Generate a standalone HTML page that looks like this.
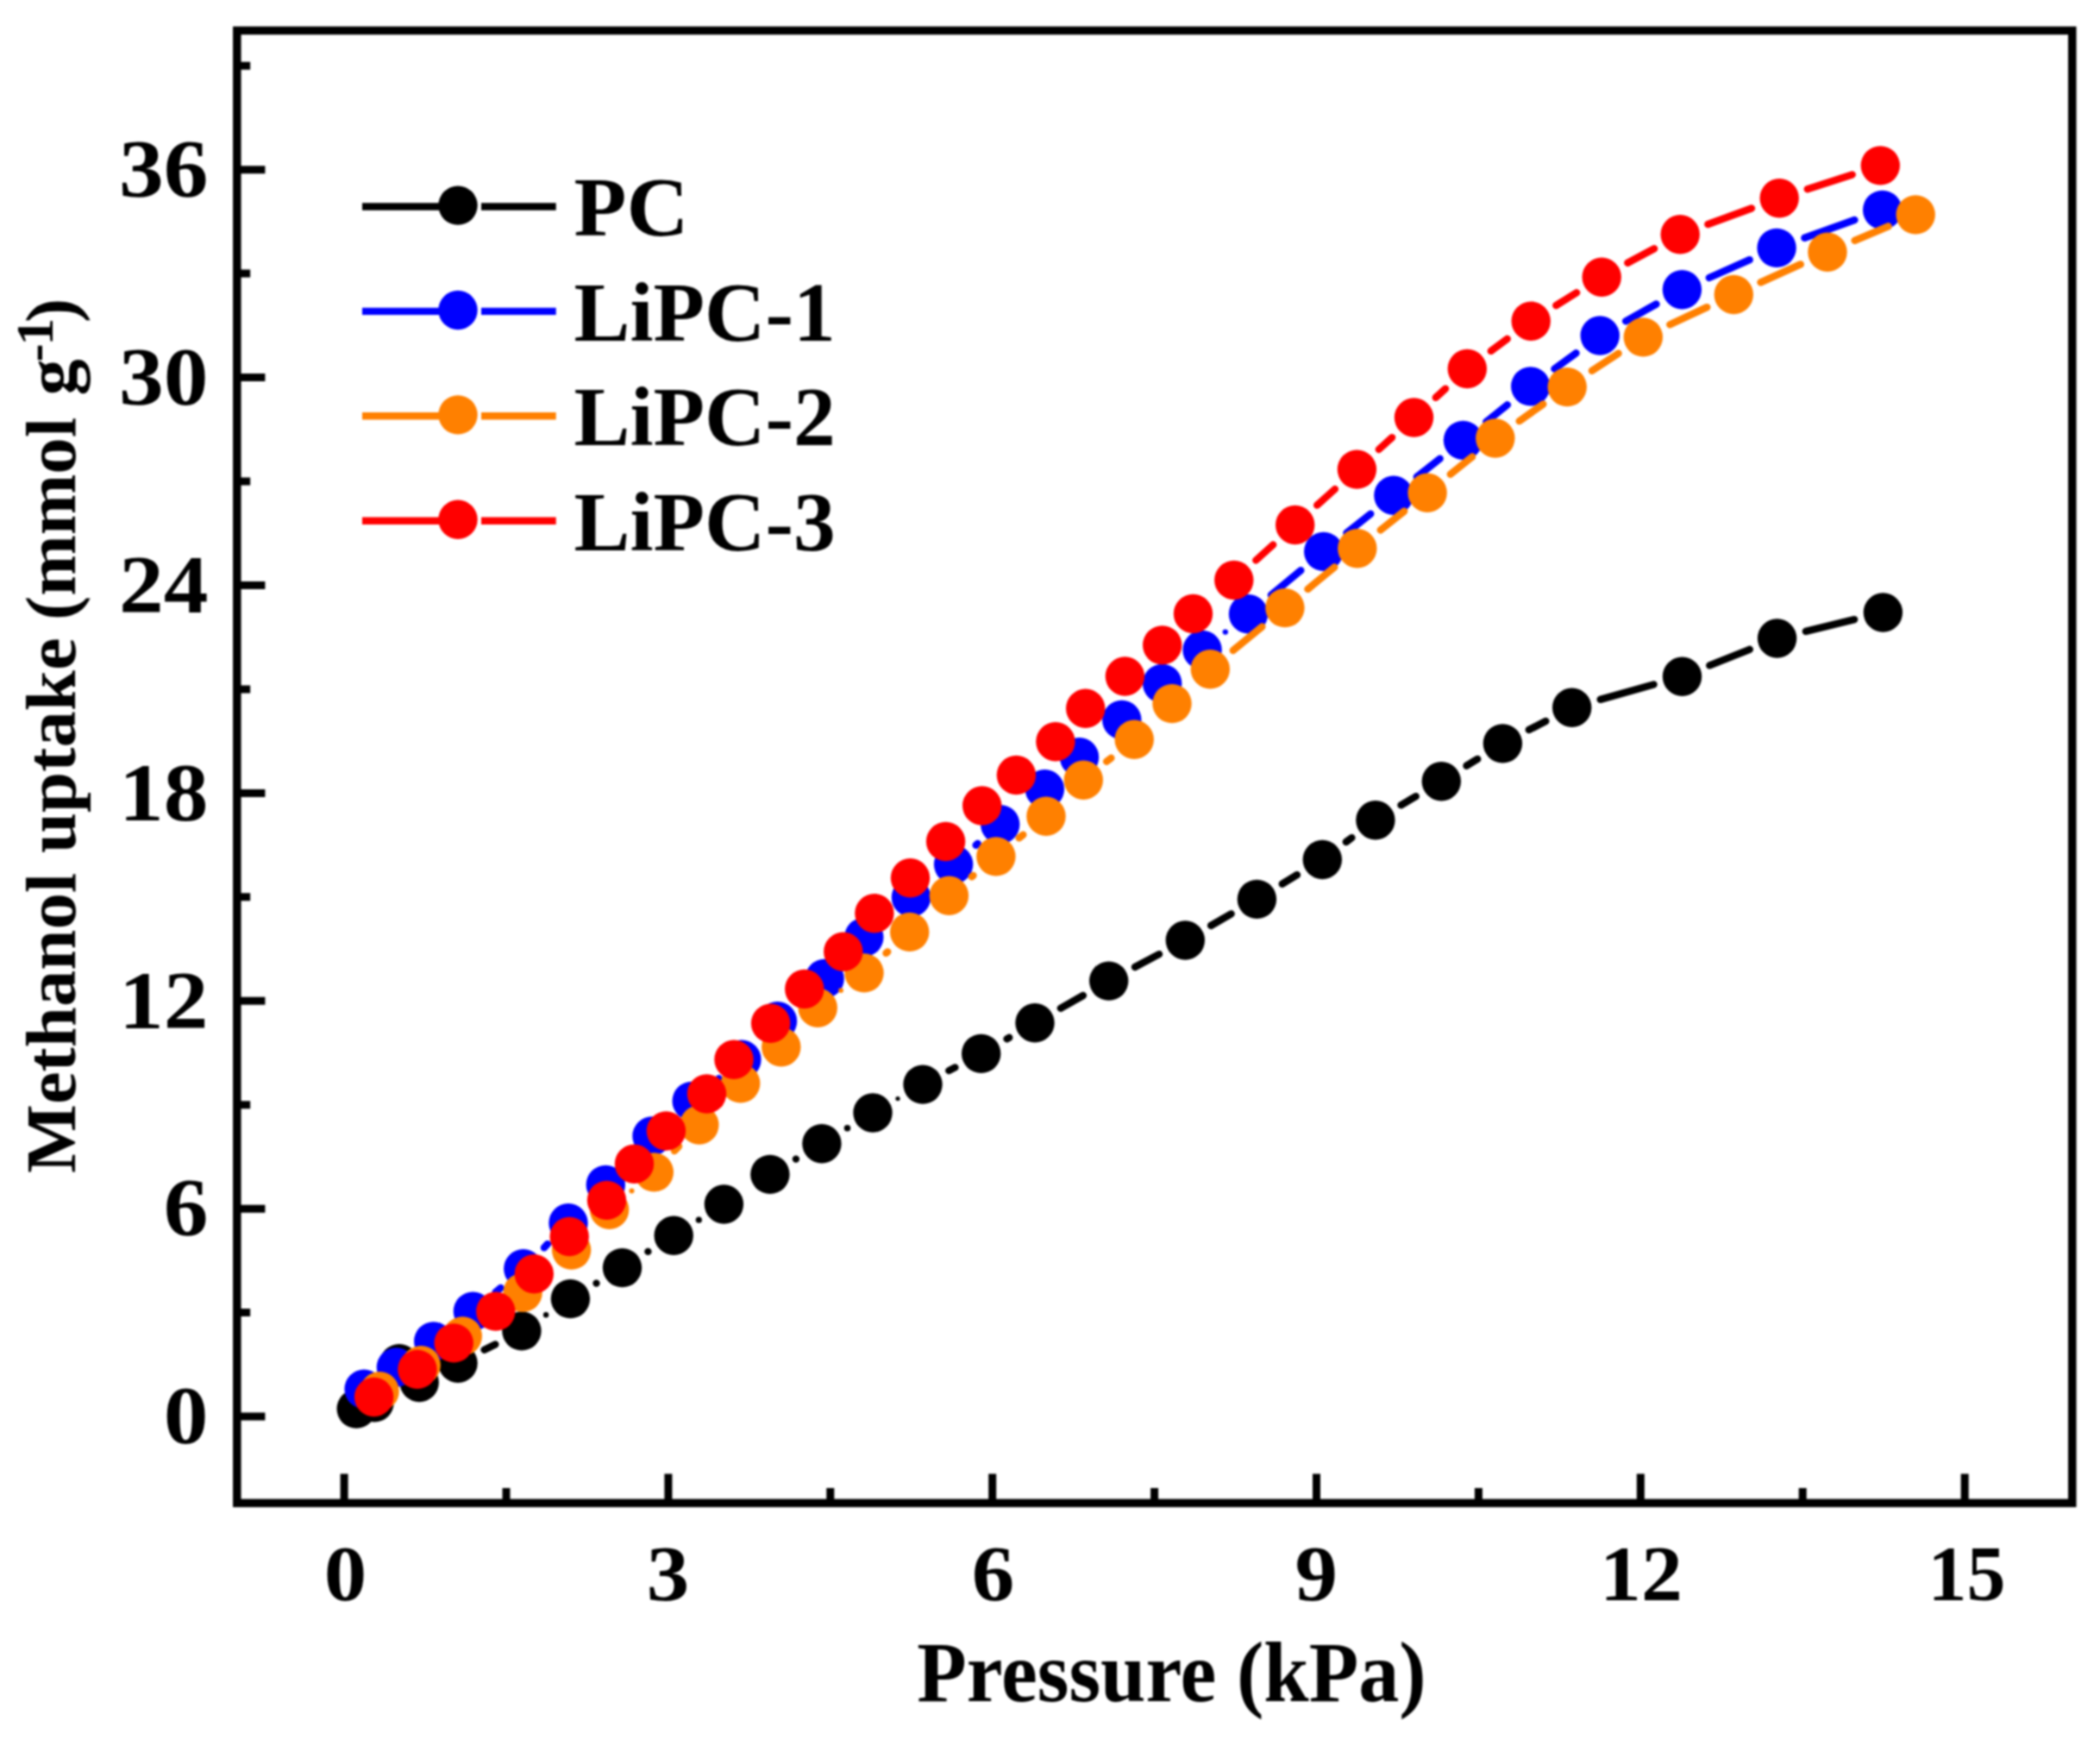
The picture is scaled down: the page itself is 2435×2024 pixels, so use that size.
<!DOCTYPE html>
<html><head><meta charset="utf-8"><title>Methanol uptake</title>
<style>
html,body{margin:0;padding:0;background:#fff;}
body{width:2435px;height:2024px;overflow:hidden;}
svg{display:block;filter:blur(1px);}
text{font-family:"Liberation Serif",serif;font-weight:bold;fill:#000;}
</style></head><body>
<svg width="2435" height="2024" viewBox="0 0 2435 2024">
<rect width="2435" height="2024" fill="#fff"/>
<path d="M399.1 1742.4V1708.6M774.9 1742.4V1708.6M1150.7 1742.4V1708.6M1526.5 1742.4V1708.6M1902.3 1742.4V1708.6M2278.2 1742.4V1708.6M587.0 1742.4V1725.1M962.8 1742.4V1725.1M1338.6 1742.4V1725.1M1714.4 1742.4V1725.1M2090.2 1742.4V1725.1M274.8 1642.1H307.4M274.8 1521.6H290.2M274.8 1401.2H307.4M274.8 1280.8H290.2M274.8 1160.3H307.4M274.8 1039.8H290.2M274.8 919.4H307.4M274.8 798.9H290.2M274.8 678.5H307.4M274.8 558.0H290.2M274.8 437.6H307.4M274.8 317.1H290.2M274.8 196.7H307.4M274.8 76.2H290.2" stroke="#000" stroke-width="9.0" fill="none"/>
<rect x="274.8" y="35.4" width="2128.0" height="1707.0" fill="none" stroke="#000" stroke-width="9.5"/>
<g fill="#000000" stroke="#000000">
<path d="M561.6 1564.7L574.3 1558.4M1100.3 1241.1L1107.4 1237.4M1167.5 1204.3L1170.2 1202.8M1229.8 1168.8L1255.9 1154.0M1316.0 1121.0L1344.0 1106.1M1404.1 1073.0L1427.6 1059.4M1486.8 1024.7L1503.9 1014.2M1560.8 976.0L1567.4 971.2M1624.5 933.3L1641.7 923.1M1700.5 887.7L1713.2 879.9M1772.8 846.1L1792.3 836.0M1855.7 810.9L1917.5 793.5M1982.3 771.4L2028.8 752.8M2093.9 731.9L2150.1 718.1" fill="none" stroke-width="8.4" stroke-linecap="round"/>
<circle cx="633.1" cy="1524.2" r="3.2" stroke="none"/>
<circle cx="691.5" cy="1487.6" r="4.2" stroke="none"/>
<circle cx="751.4" cy="1450.9" r="4.2" stroke="none"/>
<circle cx="810.3" cy="1414.2" r="3.6" stroke="none"/>
<circle cx="922.9" cy="1343.6" r="4.2" stroke="none"/>
<circle cx="982.5" cy="1307.8" r="3.8" stroke="none"/>
<circle cx="1041.0" cy="1273.5" r="2.6" stroke="none"/>
<circle cx="413.2" cy="1633.1" r="22.7" stroke="none"/>
<circle cx="434.1" cy="1625.9" r="22.7" stroke="none"/>
<circle cx="486.2" cy="1602.5" r="22.7" stroke="none"/>
<circle cx="531.0" cy="1580.2" r="22.7" stroke="none"/>
<circle cx="604.9" cy="1542.9" r="22.7" stroke="none"/>
<circle cx="661.4" cy="1505.6" r="22.7" stroke="none"/>
<circle cx="721.5" cy="1469.6" r="22.7" stroke="none"/>
<circle cx="781.2" cy="1432.3" r="22.7" stroke="none"/>
<circle cx="839.4" cy="1396.0" r="22.7" stroke="none"/>
<circle cx="892.9" cy="1361.4" r="22.7" stroke="none"/>
<circle cx="952.9" cy="1325.7" r="22.7" stroke="none"/>
<circle cx="1012.0" cy="1290.0" r="22.7" stroke="none"/>
<circle cx="1070.0" cy="1257.1" r="22.7" stroke="none"/>
<circle cx="1137.7" cy="1221.4" r="22.7" stroke="none"/>
<circle cx="1200.0" cy="1185.7" r="22.7" stroke="none"/>
<circle cx="1285.7" cy="1137.1" r="22.7" stroke="none"/>
<circle cx="1374.3" cy="1090.0" r="22.7" stroke="none"/>
<circle cx="1457.4" cy="1042.4" r="22.7" stroke="none"/>
<circle cx="1533.3" cy="996.5" r="22.7" stroke="none"/>
<circle cx="1594.9" cy="950.7" r="22.7" stroke="none"/>
<circle cx="1671.3" cy="905.7" r="22.7" stroke="none"/>
<circle cx="1742.4" cy="861.9" r="22.7" stroke="none"/>
<circle cx="1822.7" cy="820.2" r="22.7" stroke="none"/>
<circle cx="1950.5" cy="784.2" r="22.7" stroke="none"/>
<circle cx="2060.6" cy="740.0" r="22.7" stroke="none"/>
<circle cx="2183.4" cy="710.0" r="22.7" stroke="none"/>
</g>
<circle cx="462.9" cy="1580.6" r="22.7" fill="#000"/>
<g fill="#0000ff" stroke="#0000ff">
<path d="M574.6 1498.0L580.6 1492.9M630.9 1446.4L634.9 1442.2M726.0 1348.6L732.3 1341.8M828.5 1254.4L833.6 1250.3M927.0 1160.8L930.6 1157.5M1028.0 1064.3L1030.3 1062.3M1131.6 979.7L1133.7 977.9M1473.9 689.8L1508.3 661.3M1561.4 617.9L1589.2 595.7M1642.8 552.9L1669.6 531.7M1723.3 489.0L1747.9 469.3M1802.4 427.6L1827.5 409.3M1885.1 372.3L1920.5 352.5M1981.8 322.0L2028.7 301.2M2092.4 275.8L2150.4 255.0" fill="none" stroke-width="8.4" stroke-linecap="round"/>
<circle cx="1420.8" cy="732.6" r="3.2" stroke="none"/>
<circle cx="422.1" cy="1610.2" r="22.7" stroke="none"/>
<circle cx="459.4" cy="1585.0" r="22.7" stroke="none"/>
<circle cx="502.7" cy="1554.9" r="22.7" stroke="none"/>
<circle cx="548.4" cy="1520.1" r="22.7" stroke="none"/>
<circle cx="606.8" cy="1470.8" r="22.7" stroke="none"/>
<circle cx="659.0" cy="1417.8" r="22.7" stroke="none"/>
<circle cx="702.3" cy="1373.4" r="22.7" stroke="none"/>
<circle cx="756.0" cy="1317.0" r="22.7" stroke="none"/>
<circle cx="802.2" cy="1276.4" r="22.7" stroke="none"/>
<circle cx="859.9" cy="1228.3" r="22.7" stroke="none"/>
<circle cx="901.5" cy="1183.8" r="22.7" stroke="none"/>
<circle cx="956.1" cy="1134.5" r="22.7" stroke="none"/>
<circle cx="1001.8" cy="1086.4" r="22.7" stroke="none"/>
<circle cx="1056.5" cy="1040.2" r="22.7" stroke="none"/>
<circle cx="1105.6" cy="1002.0" r="22.7" stroke="none"/>
<circle cx="1159.7" cy="955.6" r="22.7" stroke="none"/>
<circle cx="1211.4" cy="914.8" r="22.7" stroke="none"/>
<circle cx="1251.5" cy="877.8" r="22.7" stroke="none"/>
<circle cx="1300.8" cy="834.5" r="22.7" stroke="none"/>
<circle cx="1347.7" cy="792.4" r="22.7" stroke="none"/>
<circle cx="1394.1" cy="753.5" r="22.7" stroke="none"/>
<circle cx="1447.5" cy="711.7" r="22.7" stroke="none"/>
<circle cx="1534.7" cy="639.4" r="22.7" stroke="none"/>
<circle cx="1615.9" cy="574.2" r="22.7" stroke="none"/>
<circle cx="1696.5" cy="510.4" r="22.7" stroke="none"/>
<circle cx="1774.7" cy="447.9" r="22.7" stroke="none"/>
<circle cx="1855.2" cy="389.0" r="22.7" stroke="none"/>
<circle cx="1950.4" cy="335.8" r="22.7" stroke="none"/>
<circle cx="2060.1" cy="287.4" r="22.7" stroke="none"/>
<circle cx="2182.7" cy="243.4" r="22.7" stroke="none"/>
</g>
<g fill="#ff8000" stroke="#ff8000">
<path d="M564.1 1528.8L578.3 1518.5M631.9 1475.8L636.8 1471.7M782.0 1334.1L787.1 1328.8M1027.5 1104.9L1029.2 1103.4M1126.8 1016.3L1128.5 1014.9M1181.6 971.4L1186.3 967.7M1283.1 882.8L1288.4 878.7M1429.8 754.0L1463.4 726.4M1516.4 682.9L1547.3 657.5M1600.7 614.5L1628.2 592.6M1681.8 549.8L1707.1 529.5M1761.7 488.1L1789.3 468.5M1845.9 429.8L1876.6 409.7M1936.3 376.3L1979.3 356.1M2041.5 327.3L2087.8 306.4M2150.6 278.8L2189.6 262.3" fill="none" stroke-width="8.4" stroke-linecap="round"/>
<circle cx="732.5" cy="1380.6" r="3.0" stroke="none"/>
<circle cx="834.8" cy="1280.0" r="3.2" stroke="none"/>
<circle cx="975.1" cy="1148.1" r="2.9" stroke="none"/>
<circle cx="440.1" cy="1612.7" r="22.7" stroke="none"/>
<circle cx="488.2" cy="1582.6" r="22.7" stroke="none"/>
<circle cx="536.3" cy="1548.9" r="22.7" stroke="none"/>
<circle cx="606.1" cy="1498.4" r="22.7" stroke="none"/>
<circle cx="662.6" cy="1449.1" r="22.7" stroke="none"/>
<circle cx="706.6" cy="1402.2" r="22.7" stroke="none"/>
<circle cx="758.3" cy="1358.9" r="22.7" stroke="none"/>
<circle cx="810.8" cy="1304.0" r="22.7" stroke="none"/>
<circle cx="858.7" cy="1255.9" r="22.7" stroke="none"/>
<circle cx="905.8" cy="1213.8" r="22.7" stroke="none"/>
<circle cx="948.2" cy="1168.2" r="22.7" stroke="none"/>
<circle cx="1002.0" cy="1127.9" r="22.7" stroke="none"/>
<circle cx="1054.7" cy="1080.4" r="22.7" stroke="none"/>
<circle cx="1100.4" cy="1038.3" r="22.7" stroke="none"/>
<circle cx="1154.9" cy="992.9" r="22.7" stroke="none"/>
<circle cx="1213.0" cy="946.2" r="22.7" stroke="none"/>
<circle cx="1256.3" cy="904.2" r="22.7" stroke="none"/>
<circle cx="1315.2" cy="857.3" r="22.7" stroke="none"/>
<circle cx="1359.0" cy="815.6" r="22.7" stroke="none"/>
<circle cx="1403.3" cy="775.8" r="22.7" stroke="none"/>
<circle cx="1489.9" cy="704.6" r="22.7" stroke="none"/>
<circle cx="1573.8" cy="635.8" r="22.7" stroke="none"/>
<circle cx="1655.1" cy="571.3" r="22.7" stroke="none"/>
<circle cx="1733.8" cy="508.0" r="22.7" stroke="none"/>
<circle cx="1817.2" cy="448.6" r="22.7" stroke="none"/>
<circle cx="1905.3" cy="390.9" r="22.7" stroke="none"/>
<circle cx="2010.3" cy="341.5" r="22.7" stroke="none"/>
<circle cx="2119.0" cy="292.2" r="22.7" stroke="none"/>
<circle cx="2221.2" cy="248.9" r="22.7" stroke="none"/>
</g>
<g fill="#ff0000" stroke="#ff0000">
<path d="M1456.3 649.5L1476.2 631.5M1527.2 585.6L1547.9 567.0M1598.8 521.0L1614.1 507.1M1664.8 460.9L1676.0 450.6M1728.8 406.9L1747.7 392.8M1804.3 354.1L1828.1 339.3M1887.3 304.8L1918.1 288.2M1980.4 260.0L2031.0 241.5M2095.8 219.2L2147.7 202.4" fill="none" stroke-width="8.4" stroke-linecap="round"/>
<circle cx="433.6" cy="1619.5" r="22.7" stroke="none"/>
<circle cx="483.9" cy="1587.4" r="22.7" stroke="none"/>
<circle cx="526.2" cy="1556.9" r="22.7" stroke="none"/>
<circle cx="574.8" cy="1520.1" r="22.7" stroke="none"/>
<circle cx="619.3" cy="1476.8" r="22.7" stroke="none"/>
<circle cx="660.2" cy="1433.5" r="22.7" stroke="none"/>
<circle cx="703.5" cy="1391.4" r="22.7" stroke="none"/>
<circle cx="735.5" cy="1349.3" r="22.7" stroke="none"/>
<circle cx="772.4" cy="1311.0" r="22.7" stroke="none"/>
<circle cx="819.5" cy="1268.0" r="22.7" stroke="none"/>
<circle cx="851.0" cy="1228.3" r="22.7" stroke="none"/>
<circle cx="893.6" cy="1186.2" r="22.7" stroke="none"/>
<circle cx="932.8" cy="1146.5" r="22.7" stroke="none"/>
<circle cx="977.8" cy="1103.2" r="22.7" stroke="none"/>
<circle cx="1013.9" cy="1058.7" r="22.7" stroke="none"/>
<circle cx="1055.5" cy="1017.8" r="22.7" stroke="none"/>
<circle cx="1096.6" cy="975.5" r="22.7" stroke="none"/>
<circle cx="1138.7" cy="934.0" r="22.7" stroke="none"/>
<circle cx="1178.4" cy="898.5" r="22.7" stroke="none"/>
<circle cx="1223.9" cy="859.7" r="22.7" stroke="none"/>
<circle cx="1258.7" cy="821.3" r="22.7" stroke="none"/>
<circle cx="1304.4" cy="784.0" r="22.7" stroke="none"/>
<circle cx="1347.7" cy="747.9" r="22.7" stroke="none"/>
<circle cx="1383.5" cy="711.5" r="22.7" stroke="none"/>
<circle cx="1430.8" cy="672.5" r="22.7" stroke="none"/>
<circle cx="1501.7" cy="608.5" r="22.7" stroke="none"/>
<circle cx="1573.4" cy="544.1" r="22.7" stroke="none"/>
<circle cx="1639.5" cy="484.0" r="22.7" stroke="none"/>
<circle cx="1701.3" cy="427.5" r="22.7" stroke="none"/>
<circle cx="1775.2" cy="372.2" r="22.7" stroke="none"/>
<circle cx="1857.2" cy="321.2" r="22.7" stroke="none"/>
<circle cx="1948.2" cy="271.8" r="22.7" stroke="none"/>
<circle cx="2063.2" cy="229.7" r="22.7" stroke="none"/>
<circle cx="2180.3" cy="191.9" r="22.7" stroke="none"/>
</g>
<text transform="translate(400.6,1855.0) scale(1.1,1)" font-size="90" text-anchor="middle">0</text>
<text transform="translate(774.6,1855.0) scale(1.1,1)" font-size="90" text-anchor="middle">3</text>
<text transform="translate(1151.4,1855.0) scale(1.1,1)" font-size="90" text-anchor="middle">6</text>
<text transform="translate(1526.3,1855.0) scale(1.1,1)" font-size="90" text-anchor="middle">9</text>
<text transform="translate(1902.9,1855.0) scale(1.065,1)" font-size="90" text-anchor="middle">12</text>
<text transform="translate(2280.6,1855.0) scale(1.0,1)" font-size="90" text-anchor="middle">15</text>
<text transform="translate(241.5,1673.3) scale(1.09,1)" font-size="95" text-anchor="end">0</text>
<text transform="translate(241.5,1432.4) scale(1.09,1)" font-size="95" text-anchor="end">6</text>
<text transform="translate(241.5,1191.5) scale(1.09,1)" font-size="95" text-anchor="end">12</text>
<text transform="translate(241.5,950.6) scale(1.09,1)" font-size="95" text-anchor="end">18</text>
<text transform="translate(241.5,709.7) scale(1.09,1)" font-size="95" text-anchor="end">24</text>
<text transform="translate(241.5,468.8) scale(1.09,1)" font-size="95" text-anchor="end">30</text>
<text transform="translate(241.5,227.9) scale(1.09,1)" font-size="95" text-anchor="end">36</text>
<text transform="translate(1358.5,1972.3) scale(0.947,1)" font-size="99.5" text-anchor="middle">Pressure (kPa)</text>
<text transform="translate(86.8,1360.0) rotate(-90) scale(1.04,1)" font-size="81.5" text-anchor="start"><tspan x="0">Methanol</tspan> <tspan x="356.7">uptake</tspan> <tspan x="616.3">(mmol</tspan> <tspan x="866.8">g</tspan><tspan x="904.3" dy="-25.4" font-size="61" letter-spacing="-2">-1</tspan><tspan x="948.1" dy="25.4">)</tspan></text>
<path d="M420 239.5H531M558 239.5H644.7" stroke="#000000" stroke-width="8.4" fill="none"/>
<circle cx="531" cy="238.1" r="22.7" fill="#000000"/>
<text transform="translate(665.5,273.4) scale(1.035,1)" font-size="96.5" text-anchor="start">PC</text>
<path d="M420 360.9H531M558 360.9H644.7" stroke="#0000ff" stroke-width="8.4" fill="none"/>
<circle cx="531" cy="359.5" r="22.7" fill="#0000ff"/>
<text transform="translate(665.5,394.8) scale(1.01,1)" font-size="96.5" text-anchor="start">LiPC-1</text>
<path d="M420 482.3H531M558 482.3H644.7" stroke="#ff8000" stroke-width="8.4" fill="none"/>
<circle cx="531" cy="480.9" r="22.7" fill="#ff8000"/>
<text transform="translate(665.5,516.2) scale(1.01,1)" font-size="96.5" text-anchor="start">LiPC-2</text>
<path d="M420 603.7H531M558 603.7H644.7" stroke="#ff0000" stroke-width="8.4" fill="none"/>
<circle cx="531" cy="602.3" r="22.7" fill="#ff0000"/>
<text transform="translate(665.5,637.6) scale(1.01,1)" font-size="96.5" text-anchor="start">LiPC-3</text>
</svg></body></html>
